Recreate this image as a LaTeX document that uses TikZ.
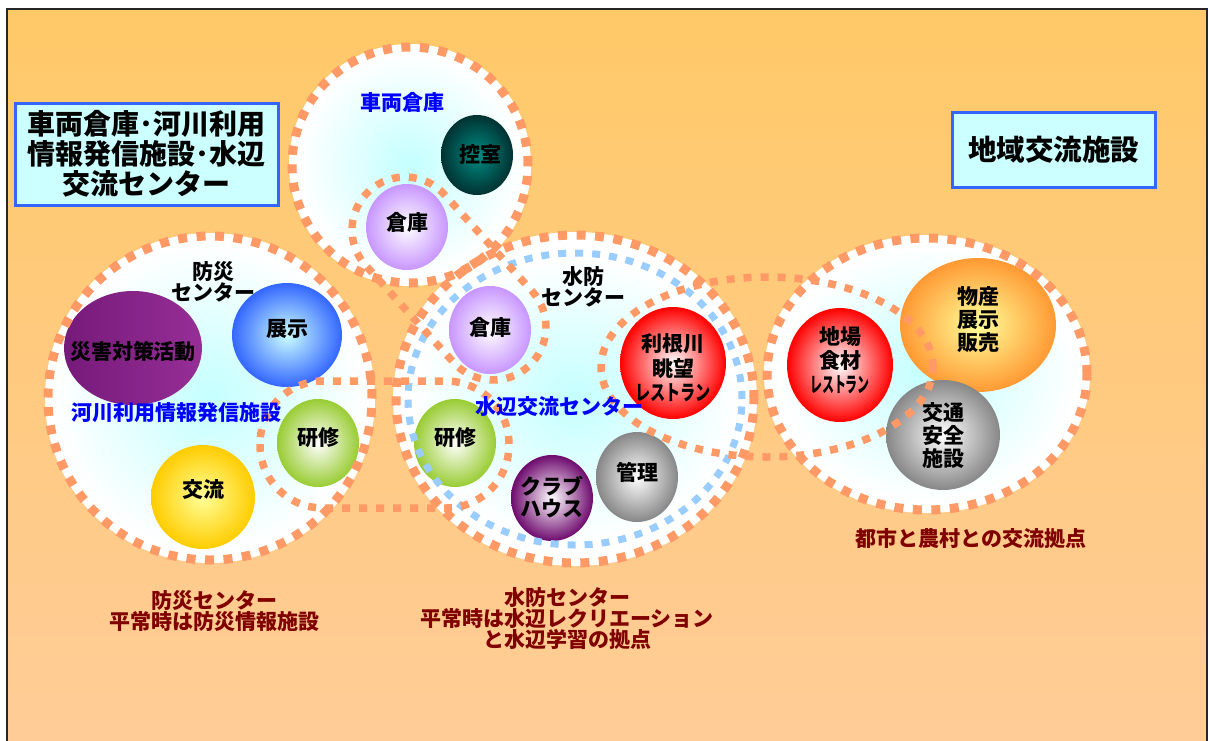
\documentclass[tikz,border=0pt]{standalone}
\usepackage{fontspec}
\usepackage{graphicx}
\setmainfont{Noto Sans CJK JP}
\usetikzlibrary{shapes.geometric}
\definecolor{bgtop}{RGB}{255,201,104}
\definecolor{bgbot}{RGB}{255,204,153}
\definecolor{dashor}{RGB}{255,153,102}
\definecolor{dashbl}{RGB}{153,204,255}
\definecolor{boxfill}{RGB}{204,255,255}
\definecolor{boxline}{RGB}{51,102,255}
\definecolor{lblue}{RGB}{0,0,255}
\definecolor{capred}{RGB}{128,0,0}
\definecolor{ringcyan}{RGB}{196,255,255}
\definecolor{tealin}{RGB}{0,140,130}
\definecolor{tealout}{RGB}{0,50,50}
\definecolor{lav}{RGB}{200,150,255}
\definecolor{purA}{RGB}{118,26,122}
\definecolor{purB}{RGB}{150,46,150}
\definecolor{bluout}{RGB}{51,102,255}
\definecolor{grnout}{RGB}{153,204,51}
\definecolor{yelin}{RGB}{255,255,153}
\definecolor{yelout}{RGB}{255,204,0}
\definecolor{redout}{RGB}{255,0,0}
\definecolor{dpur}{RGB}{110,10,110}
\definecolor{gryout}{RGB}{135,135,135}
\definecolor{orout}{RGB}{255,153,51}
\newcommand{\narrowtext}[2]{\scalebox{#1}[1]{#2}}
\begin{document}
\begin{tikzpicture}[x=1pt,y=-1pt,
  bigdash/.style={draw=dashor, line width=9pt, dash pattern=on 9pt off 9.5pt},
  loopdash/.style={draw=dashor, line width=7.5pt, dash pattern=on 8pt off 9pt},
  bluedash/.style={draw=dashbl, line width=7pt, dash pattern=on 8pt off 9pt},
  ball/.style={ellipse, inner sep=0pt},
  btext/.style={align=center, text=black, inner sep=0pt, font=\bfseries\fontsize{21}{24}\selectfont},
  blabel/.style={text=lblue, font=\bfseries\fontsize{21}{21}\selectfont, inner sep=0pt},
  klabel/.style={text=black, align=center, font=\bfseries\fontsize{21}{21}\selectfont, inner sep=0pt},
  caption/.style={text=capred, align=center, font=\bfseries\fontsize{21}{21}\selectfont, inner sep=0pt},
  titlebox/.style={draw=boxline, line width=3pt, fill=boxfill, align=center, inner sep=0pt, text=black}
]
\useasboundingbox (0,0) rectangle (1208,740);
\clip (0,0) rectangle (1208,740);
% background frame
\shade[top color=bgtop, bottom color=bgbot] (7,9) rectangle (1207,760);
\draw[black!85, line width=2pt] (7,9) rectangle (1207,760);

% big discs
\fill[white] (410,165) circle[radius=121pt];
\shade[inner color=ringcyan, outer color=white] (410,165) circle[radius=112pt];
\fill[white] (210,398) circle[radius=165pt];
\shade[inner color=ringcyan, outer color=white] (210,398) circle[radius=155pt];
\fill[white] (575,399) ellipse[x radius=182pt, y radius=167pt];
\shade[inner color=ringcyan, outer color=white] (575,399) ellipse[x radius=164pt, y radius=143pt];
\fill[white] (927,374) ellipse[x radius=163pt, y radius=139pt];
\shade[inner color=ringcyan, outer color=white] (927,374) ellipse[x radius=150pt, y radius=128pt];

% balls
\node[ball, minimum width=72pt, minimum height=80pt, inner color=tealin, outer color=tealout] (kosh) at (477,155) {};
\node[ball, minimum width=82pt, minimum height=86pt, inner color=white, outer color=lav] (soko1) at (407,227) {};
\node[ball, minimum width=138pt, minimum height=114pt, left color=purA, right color=purB] (saigai) at (133,348) {};
\node[ball, minimum width=110pt, minimum height=104pt, inner color=boxfill, outer color=bluout] (tenji) at (287,335) {};
\node[ball, minimum width=82pt, minimum height=88pt, inner color=white, outer color=grnout] (ken1) at (318,443) {};
\node[ball, minimum width=104pt, minimum height=104pt, inner color=yelin, outer color=yelout] (koryu) at (203,497) {};
\node[ball, minimum width=82pt, minimum height=88pt, inner color=white, outer color=lav] (soko2) at (490,330) {};
\node[ball, minimum width=106pt, minimum height=112pt, inner color=white, outer color=redout] (tone) at (673,363) {};
\node[ball, minimum width=82pt, minimum height=88pt, inner color=white, outer color=grnout] (ken2) at (455,443) {};
\node[ball, minimum width=82pt, minimum height=86pt, inner color=white, outer color=dpur] (club) at (552,498) {};
\node[ball, minimum width=82pt, minimum height=90pt, inner color=white, outer color=gryout] (kanri) at (637,477) {};
\node[ball, minimum width=106pt, minimum height=114pt, inner color=white, outer color=redout] (jiba) at (840,365) {};
\node[ball, minimum width=156pt, minimum height=134pt, inner color=yelin, outer color=orout] (bussan) at (978,325) {};
\node[ball, minimum width=114pt, minimum height=110pt, inner color=white, outer color=gryout] (kotsu) at (943,435) {};

% dashed rings
\draw[bigdash] (410,165) circle[radius=118pt];
\draw[bigdash] (210,398) circle[radius=162pt];
\draw[bigdash] (575,399) ellipse[x radius=179pt, y radius=164pt];
\draw[bigdash] (927,374) ellipse[x radius=160pt, y radius=136pt];
\draw[bluedash] (575,399) ellipse[x radius=167pt, y radius=146pt];
% loops
\begin{scope}[shift={(449,278.5)}, rotate=-47.8]
  \draw[loopdash, rounded corners=53pt] (-118.5,-53) rectangle (118.5,53);
\end{scope}
\draw[loopdash, rounded corners=63pt] (260,381) rectangle (509,508);
\draw[loopdash] (767,367) ellipse[x radius=166pt, y radius=90pt];

% ball texts
\node[btext] (t-kosh) at (480,155) {控室};
\node[btext] (t-soko1) at (407,222) {倉庫};
\node[btext] (t-saigai) at (133,352) {災害対策活動};
\node[btext] (t-tenji) at (287,329) {展示};
\node[btext] (t-ken1) at (318,438) {研修};
\node[btext] (t-koryu) at (203,490) {交流};
\node[btext] (t-soko2) at (490,327) {倉庫};
\node[btext, font=\bfseries\fontsize{21}{24.5}\selectfont] (t-tone) at (673,368) {利根川\\眺望\\\narrowtext{0.72}{レストラン}};
\node[btext] (t-ken2) at (455,438) {研修};
\node[btext, font=\bfseries\fontsize{21}{21.5}\selectfont] (t-club) at (552,497) {クラブ\\ハウス};
\node[btext] (t-kanri) at (637,472) {管理};
\node[btext] (t-jiba) at (840,360) {地場\\食材\\\narrowtext{0.57}{レストラン}};
\node[btext, font=\bfseries\fontsize{21}{23}\selectfont] (t-bussan) at (978,320) {物産\\展示\\販売};
\node[btext, font=\bfseries\fontsize{21}{23}\selectfont] (t-kotsu) at (943,435) {交通\\安全\\施設};

% labels
\node[blabel] (lsharyo) at (402,102) {車両倉庫};
\node[klabel] (lbosai) at (213,282) {防災\\センター};
\node[blabel] (lkasen) at (176,413) {河川利用情報発信施設};
\node[klabel] (lsuibo) at (583,287) {水防\\センター};
\node[blabel] (lmizube) at (559,407) {水辺交流センター};

% captions
\node[caption] (cap1) at (214,611) {防災センター\\平常時は防災情報施設};
\node[caption] (cap2) at (567,619) {水防センター\\平常時は水辺レクリエーション\\と水辺学習の拠点};
\node[caption] (cap3) at (971,538) {都市と農村との交流拠点};

% title boxes
\node[titlebox, minimum width=263pt, minimum height=102pt, font=\bfseries\fontsize{28}{30}\selectfont] (box1) at (146.5,154) {車両倉庫･河川利用\\情報発信施設･水辺\\交流センター};
\node[titlebox, minimum width=203pt, minimum height=75pt, font=\bfseries\fontsize{28.5}{30}\selectfont] (box2) at (1053.5,149.5) {地域交流施設};
\end{tikzpicture}
\end{document}
